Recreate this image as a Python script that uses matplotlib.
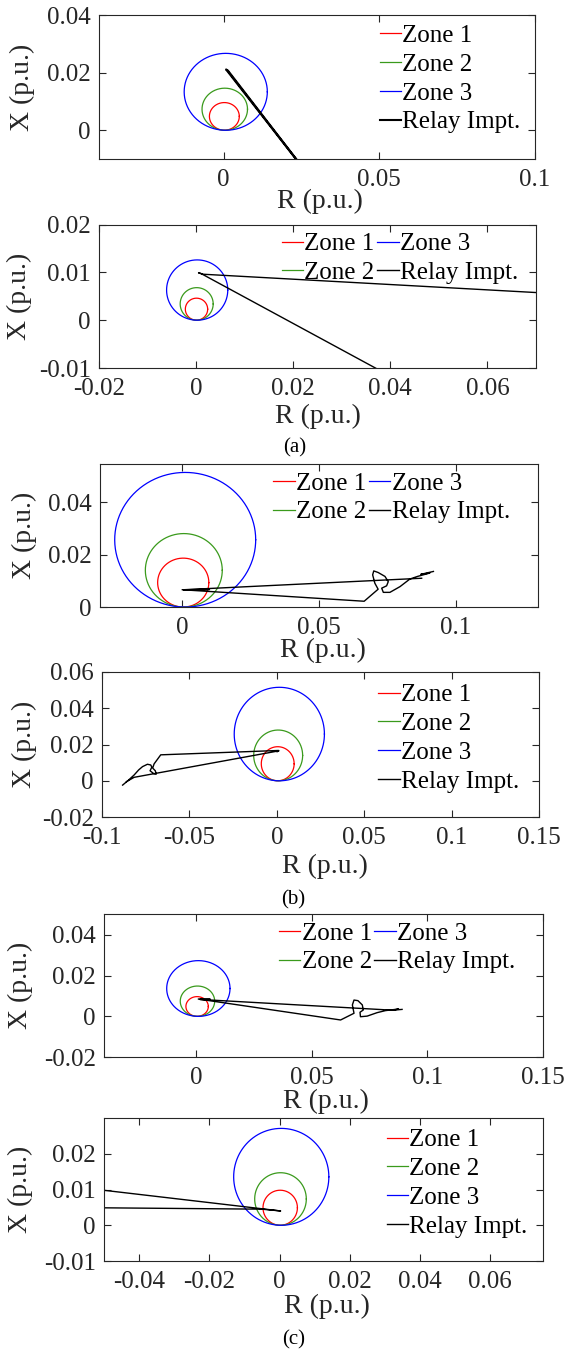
import numpy as np
import matplotlib
matplotlib.use('Agg')
from matplotlib import pyplot as plt
from matplotlib.ticker import FuncFormatter

### Plot parameters
plt.rcParams['font.family'] = ['Liberation Serif', 'DejaVu Serif']
plt.rcParams['axes.linewidth'] = 0.8
plt.rcParams['axes.edgecolor'] = '#262626'

W, H = 564, 1349

### Data
zone_names = ['Zone 1', 'Zone 2', 'Zone 3']
zone_colors = ['#ff0000', '#3a9a1c', '#0000ff']
traj_name = 'Relay Impt.'

# Mho zone reach (circle diameter, p.u.) and characteristic angle (deg)
reach_a1 = [0.0096, 0.0146, 0.0267]
reach_a2 = [0.0046, 0.0068, 0.0126]
reach_b1 = [0.0187, 0.0281, 0.0515]
reach_b2 = [0.0188, 0.0280, 0.0516]
reach_c1 = [0.0097, 0.0149, 0.0274]
reach_c2 = [0.0098, 0.0147, 0.0271]
angle_a1, angle_a2 = 87.0, 88.0
angle_b1, angle_b2 = 87.5, 86.8
angle_c1, angle_c2 = 86.5, 88.0

# Relay impedance trajectories (R, X in p.u.)
r_a1 = [0.0380, 0.0008, 0.0014, 0.0376]
x_a1 = [-0.0305, 0.0211, 0.0207, -0.0300]

r_a2 = [0.1000, 0.0015, 0.0005, 0.0011, 0.0551]
x_a2 = [0.0041, 0.0096, 0.0099, 0.0097, -0.0200]

r_b1 = [0.0918, 0.0872, 0.0905, 0.0860, 0.0832, 0.0796, 0.0759, 0.0735, 0.0729,
        0.0747, 0.0753, 0.0741, 0.0716, 0.0700, 0.0696, 0.0704, 0.0716, 0.0665,
        0.0000, 0.0100, 0.0005, 0.0875]
x_b1 = [0.0136, 0.0125, 0.0130, 0.0117, 0.0107, 0.0078, 0.0056, 0.0056, 0.0072,
        0.0081, 0.0097, 0.0117, 0.0132, 0.0138, 0.0123, 0.0091, 0.0068, 0.0022,
        0.0066, 0.0067, 0.0066, 0.0110]

r_b2 = [-0.0882, -0.0850, -0.0816, -0.0790, -0.0768, -0.0740, -0.0721, -0.0715,
        -0.0725, -0.0705, -0.0690, -0.0695, -0.0710, -0.0702, -0.0664, 0.0010,
        0.0000, 0.0012, -0.0816, -0.0860]
x_b2 = [-0.0024, 0.0002, 0.0032, 0.0060, 0.0078, 0.0091, 0.0087, 0.0075,
        0.0055, 0.0040, 0.0036, 0.0055, 0.0070, 0.0093, 0.0143, 0.0167,
        0.0160, 0.0165, 0.0019, -0.0005]

r_c1 = [0.0890, 0.0850, 0.0875, 0.0818, 0.0782, 0.0739, 0.0710, 0.0708, 0.0722,
        0.0718, 0.0699, 0.0682, 0.0675, 0.0682, 0.0624, 0.0008, 0.0060, 0.0015,
        0.0850]
x_c1 = [0.0034, 0.0030, 0.0036, 0.0028, 0.0018, 0.0001, -0.0002, 0.0020, 0.0031,
        0.0056, 0.0077, 0.0080, 0.0056, 0.0015, -0.0018, 0.0085, 0.0084, 0.0083,
        0.0030]

r_c2 = [-0.0650, 0.0003, -0.0051, -0.0650]
x_c2 = [0.0115, 0.0040, 0.0045, 0.0050]

# Axis limits and ticks
xlims = [(-0.04, 0.1), (-0.02, 0.07), (-0.03, 0.13), (-0.1, 0.15), (-0.04, 0.15), (-0.05, 0.075)]
ylims = [(-0.01, 0.04), (-0.01, 0.02), (0, 0.0547), (-0.02, 0.06), (-0.02, 0.0503), (-0.01, 0.03)]
xticks = [[0, 0.05, 0.1], [-0.02, 0, 0.02, 0.04, 0.06], [0, 0.05, 0.1],
          [-0.1, -0.05, 0, 0.05, 0.1, 0.15], [0, 0.05, 0.1, 0.15],
          [-0.04, -0.02, 0, 0.02, 0.04, 0.06]]
yticks = [[0, 0.02, 0.04], [-0.01, 0, 0.01, 0.02], [0, 0.02, 0.04],
          [-0.02, 0, 0.02, 0.04, 0.06], [-0.02, 0, 0.02, 0.04],
          [-0.01, 0, 0.01, 0.02]]

panels = [
    (reach_a1, angle_a1, r_a1, x_a1),
    (reach_a2, angle_a2, r_a2, x_a2),
    (reach_b1, angle_b1, r_b1, x_b1),
    (reach_b2, angle_b2, r_b2, x_b2),
    (reach_c1, angle_c1, r_c1, x_c1),
    (reach_c2, angle_c2, r_c2, x_c2),
]

### Layout (pixels: left, top, right, bottom)
boxes = [(99, 15, 535, 159), (99, 224.5, 536, 368), (100, 464, 538, 607),
         (102, 672, 539, 817), (104, 914, 543, 1057), (104, 1118, 543, 1261)]
# legend: columns, handle-start x, top y
legends = [(1, 379.5, 24.5), (2, 281.7, 232.8), (2, 273.4, 472), (1, 378.4, 683.8),
           (2, 278.8, 922), (1, 386.7, 1128.8)]
xlabel_pos = [(320, 201.7), (318, 416.7), (323, 650), (324.6, 866.7), (326, 1101.7), (327, 1306.7)]
ylabel_x = [22, 19, 24, 24, 20, 20]
captions = [('(a)', 295, 448), ('(b)', 293, 900), ('(c)', 293.5, 1340)]

fmt = FuncFormatter(lambda v, p: '%g' % (round(v, 6) + 0.0))

fig = plt.figure(figsize=(W / 100, H / 100), dpi=100)
t = np.linspace(0, 2 * np.pi, 400)

for i, (reach, ang, rr, xx) in enumerate(panels):
    l, tp, r, b = boxes[i]
    ax = fig.add_axes([l / W, 1 - b / H, (r - l) / W, (b - tp) / H])

    # Mho circles pass through the origin
    th = np.deg2rad(ang)
    for name, col, d in zip(zone_names, zone_colors, reach):
        rad = d / 2
        cx, cy = rad * np.cos(th), rad * np.sin(th)
        ax.plot(cx + rad * np.cos(t), cy + rad * np.sin(t), color=col, lw=0.9, label=name)
    lw = 1.5 if i == 0 else 1.0
    ax.plot(rr, xx, color='black', lw=lw, label=traj_name)

    ax.set_xlim(*xlims[i])
    ax.set_ylim(*ylims[i])
    ax.set_xticks(xticks[i])
    ax.set_yticks(yticks[i])
    ax.xaxis.set_major_formatter(fmt)
    ax.yaxis.set_major_formatter(fmt)
    ax.tick_params(direction='in', top=True, right=True, length=5, width=0.8,
                   labelsize=18, colors='#262626')
    ax.tick_params(axis='x', pad=7)
    ax.tick_params(axis='y', pad=6)

    # axis labels
    xl, yl = xlabel_pos[i]
    ax.set_xlabel('R (p.u.)', fontsize=20, color='#262626')
    ax.xaxis.set_label_coords((xl - l) / (r - l), (b - yl) / (b - tp))
    ax.xaxis.label.set_verticalalignment('center')
    ax.set_ylabel('X (p.u.)', fontsize=20, color='#262626')
    ax.yaxis.set_label_coords((ylabel_x[i] - l) / (r - l), 0.5)
    ax.yaxis.label.set_verticalalignment('center')

    # legend
    ncol, lx, ly = legends[i]
    ax.legend(loc='upper left', bbox_to_anchor=((lx - l) / (r - l), (b - ly) / (b - tp)),
              ncol=ncol, frameon=False, fontsize=18, borderpad=0, borderaxespad=0,
              handlelength=0.86, handletextpad=0.05, columnspacing=0.1,
              labelspacing=0.25)

for txt, cx, cy in captions:
    fig.text(cx / W, 1 - cy / H, txt, ha='center', va='center', fontsize=15)

plt.savefig('out.png', dpi=100)
